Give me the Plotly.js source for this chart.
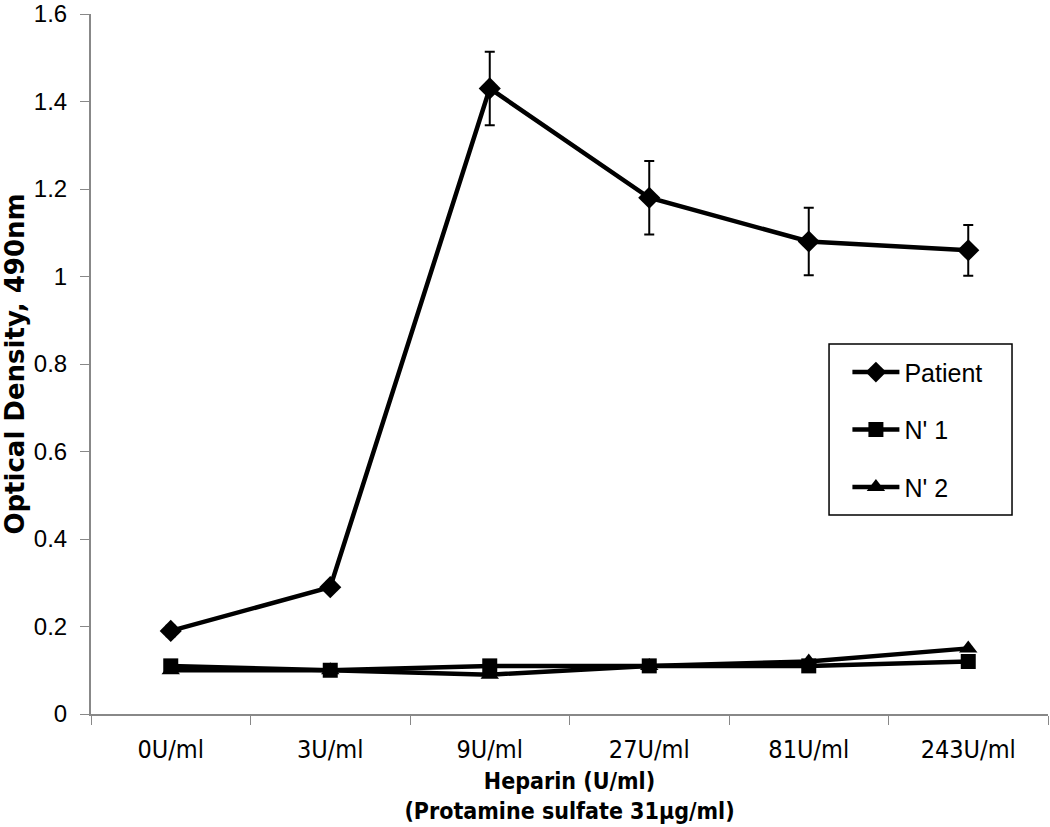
<!DOCTYPE html>
<html>
<head>
<meta charset="utf-8">
<script src="https://cdn.plot.ly/plotly-3.0.1.min.js"></script>
<style>
  body { margin: 0; background: #fff; }
  #chart { width: 1050px; height: 827px; }
</style>
</head>
<body>
<div id="chart"></div>
<script>
// heparin doses (x categories)
var doses = ['0U/ml', '3U/ml', '9U/ml', '27U/ml', '81U/ml', '243U/ml'];

// optical density readings
var patient = [0.19, 0.29, 1.43, 1.18, 1.08, 1.06];
var patientErr = [0.012, 0.005, 0.084, 0.084, 0.077, 0.058];
var n1 = [0.11, 0.10, 0.11, 0.11, 0.11, 0.12];
var n2 = [0.10, 0.10, 0.09, 0.11, 0.12, 0.15];

var lineStyle = {color: '#000', width: 4.5};
var narrow = 'DejaVu Sans Condensed, Liberation Sans, sans-serif';

var tracePatient = {
    x: doses, y: patient, name: 'Patient', type: 'scatter', mode: 'lines+markers',
    legendgroup: 'a',
    line: lineStyle,
    marker: {symbol: 'diamond', size: 17, color: '#000'},
    error_y: {type: 'data', array: patientErr, visible: true, color: '#000', thickness: 2, width: 5}
};
var traceN1 = {
    x: doses, y: n1, name: "N' 1", type: 'scatter', mode: 'lines+markers',
    legendgroup: 'b',
    line: lineStyle,
    marker: {symbol: 'square', size: 15, color: '#000'}
};
var traceN2 = {
    x: doses, y: n2, name: "N' 2", type: 'scatter', mode: 'lines+markers',
    legendgroup: 'c',
    line: lineStyle,
    marker: {symbol: 'triangle-up', size: 16, color: '#000'}
};

var data = [tracePatient, traceN1, traceN2];

var layout = {
    width: 1050, height: 827,
    margin: {l: 91, r: 2, t: 14, b: 113},
    paper_bgcolor: '#fff', plot_bgcolor: '#fff',
    font: {family: 'Liberation Sans, Arial, sans-serif', color: '#000'},
    showlegend: true,
    legend: {
        x: 0.7904, y: 0.521, xanchor: 'left', yanchor: 'top',
        borderwidth: 0, bgcolor: 'rgba(0,0,0,0)',
        font: {size: 25}, traceorder: 'grouped', tracegroupgap: 22,
        itemwidth: 47
    },
    // legend frame (wider than plotly's own box, as in the original)
    shapes: [{
        type: 'rect', xref: 'paper', yref: 'paper',
        x0: 0.7712, x1: 0.9624, y0: 0.2843, y1: 0.5286,
        line: {color: '#000', width: 1.5}, fillcolor: '#fff', layer: 'below'
    }],
    xaxis: {
        type: 'category', range: [-0.5, 5.5],
        categoryorder: 'array', categoryarray: doses,
        tickson: 'boundaries', ticks: 'outside', ticklen: 9, tickcolor: '#888',
        ticklabelstandoff: 12,
        showline: true, linecolor: '#888', linewidth: 2,
        showgrid: false, zeroline: false,
        tickfont: {size: 25, family: narrow},
        title: {
            text: '<b>Heparin (U/ml)</b><br><b>(Protamine sulfate 31μg/ml)</b>',
            font: {size: 23, family: narrow},
            standoff: 10
        }
    },
    yaxis: {
        range: [0, 1.6001], dtick: 0.2, tick0: 0,
        ticks: 'outside', ticklen: 9, tickcolor: '#888',
        ticklabelstandoff: 8, ticklabeloverflow: 'allow',
        showline: true, linecolor: '#888', linewidth: 2,
        showgrid: false, zeroline: false,
        tickfont: {size: 24},
        title: {
            text: '<b>Optical Density, 490nm</b>',
            font: {size: 26, family: 'DejaVu Sans, sans-serif'},
            standoff: 2
        }
    }
};

Plotly.newPlot('chart', data, layout, {displayModeBar: false});
</script>
</body>
</html>
